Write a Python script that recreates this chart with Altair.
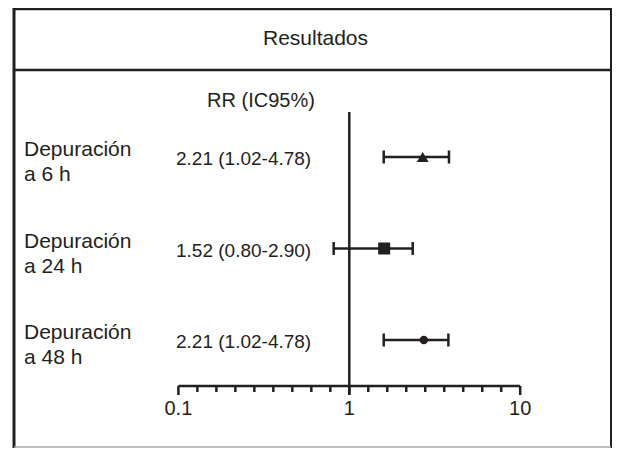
import altair as alt
import pandas as pd

# ---- data ----
row_labels = ["Depuración\na 6 h", "Depuración\na 24 h", "Depuración\na 48 h"]
rr_texts = ["2.21 (1.02-4.78)", "1.52 (0.80-2.90)", "2.21 (1.02-4.78)"]
point_est = [2.69, 1.60, 2.73]
ci_low = [1.59, 0.81, 1.59]
ci_high = [3.83, 2.35, 3.80]
shapes = ["triangle-up", "square", "circle"]
marker_sizes = [140, 144, 72]

major_ticks = [0.1, 1, 10]
major_labels = ["0.1", "1", "10"]
minor_ticks = [10 ** (-1 + k / 9) for k in range(1, 9)] + [10 ** (k / 9) for k in range(1, 9)]

title_text = "Resultados"
col_header = "RR (IC95%)"

# ---- layout ----
W, H = 604, 440
INK = "#231f20"
FONT = "Liberation Sans"
PX_PER_DECADE = 170.9
X_ONE_PX = 341.3
X_MIN = 10 ** (-X_ONE_PX / PX_PER_DECADE)
X_MAX = 10 ** ((W - X_ONE_PX) / PX_PER_DECADE)
ROW_SP = 91.5
Y0 = -149 / ROW_SP
Y1 = Y0 + H / ROW_SP

xs = alt.Scale(type="log", domain=[X_MIN, X_MAX], nice=False, zero=False)
ys = alt.Scale(domain=[Y0, Y1], reverse=True, nice=False, zero=False)

rows = pd.DataFrame({
    "row": [0, 1, 2],
    "label": row_labels,
    "rr": rr_texts,
    "est": point_est,
    "lo": ci_low,
    "hi": ci_high,
    "shape": shapes,
    "size": marker_sizes,
})
one = pd.DataFrame({"a": [0]})
majors = pd.DataFrame({"v": major_ticks, "lab": major_labels})
minors = pd.DataFrame({"v": minor_ticks})
axis_span = pd.DataFrame({"a": [major_ticks[0]], "b": [major_ticks[-1]]})

X = lambda f: alt.X(f, type="quantitative", scale=xs, axis=None)
Y = lambda f: alt.Y(f, type="quantitative", scale=ys, axis=None)

def hline(y, x1, x2, w, color=INK):
    return alt.Chart(one).mark_rule(strokeWidth=w, color=color).encode(
        x=alt.value(x1), x2=alt.value(x2), y=alt.value(y))

def vline(x, y1, y2, w, color=INK):
    return alt.Chart(one).mark_rule(strokeWidth=w, color=color).encode(
        x=alt.value(x), y=alt.value(y1), y2=alt.value(y2))

RIGHT = W - 1
frame = (
    vline(6, 0, H, 3) + vline(RIGHT, 0, H, 2)
    + hline(1, 6, RIGHT, 2.5) + hline(62, 6, RIGHT, 2.5)
    + hline(439, 6, RIGHT, 1.5, "#aaaaaa")
)

title = alt.Chart(pd.DataFrame({"t": [title_text]})).mark_text(
    font=FONT, fontSize=21, color=INK, align="center", baseline="alphabetic"
).encode(x=alt.value(307.5), y=alt.value(37), text="t:N")

header = alt.Chart(pd.DataFrame({"t": [col_header]})).mark_text(
    font=FONT, fontSize=20, color=INK, align="center", baseline="alphabetic"
).encode(x=alt.value(253), y=alt.value(98.5), text="t:N")

ref_line = alt.Chart(pd.DataFrame({"v": [1]})).mark_rule(strokeWidth=2.5, color=INK).encode(
    x=X("v"), y=alt.value(104), y2=alt.value(387))

axis_line = alt.Chart(axis_span).mark_rule(strokeWidth=2.5, color=INK).encode(
    x=X("a"), x2="b:Q", y=alt.value(378))
major = alt.Chart(majors).mark_rule(strokeWidth=2.5, color=INK).encode(
    x=X("v"), y=alt.value(378), y2=alt.value(387))
minor = alt.Chart(minors).mark_rule(strokeWidth=2.5, color=INK).encode(
    x=X("v"), y=alt.value(378), y2=alt.value(384))
axis_text = alt.Chart(majors).mark_text(
    font=FONT, fontSize=20, color=INK, align="center", baseline="alphabetic"
).encode(x=X("v"), y=alt.value(407), text="lab:N")

labels = alt.Chart(rows).mark_text(
    font=FONT, fontSize=21, color=INK, align="left", baseline="alphabetic",
    lineBreak="\n", lineHeight=25, dy=-1
).encode(x=alt.value(16), y=Y("row"), text="label:N")

rr = alt.Chart(rows).mark_text(
    font=FONT, fontSize=19, color=INK, align="left", baseline="alphabetic", dy=8
).encode(x=alt.value(168), y=Y("row"), text="rr:N")

bars = alt.Chart(rows).mark_rule(strokeWidth=2.5, color=INK).encode(
    x=X("lo"), x2="hi:Q", y=Y("row"))
cap_lo = alt.Chart(rows).mark_tick(orient="vertical", size=13, thickness=2.5, color=INK, opacity=1).encode(
    x=X("lo"), y=Y("row"))
cap_hi = alt.Chart(rows).mark_tick(orient="vertical", size=13, thickness=2.5, color=INK, opacity=1).encode(
    x=X("hi"), y=Y("row"))
points = alt.Chart(rows).mark_point(filled=True, color=INK, opacity=1).encode(
    x=X("est"), y=Y("row"),
    shape=alt.Shape("shape:N", scale=None),
    size=alt.Size("size:Q", scale=None),
)

chart = alt.layer(
    frame, title, header, ref_line, axis_line, major, minor, axis_text,
    labels, rr, bars, cap_lo, cap_hi, points
).properties(
    width=W, height=H, autosize=alt.AutoSizeParams(type="none"), padding=0
).configure_view(stroke=None)

chart.save("out.html", embed_options={"renderer": "svg", "actions": False})
